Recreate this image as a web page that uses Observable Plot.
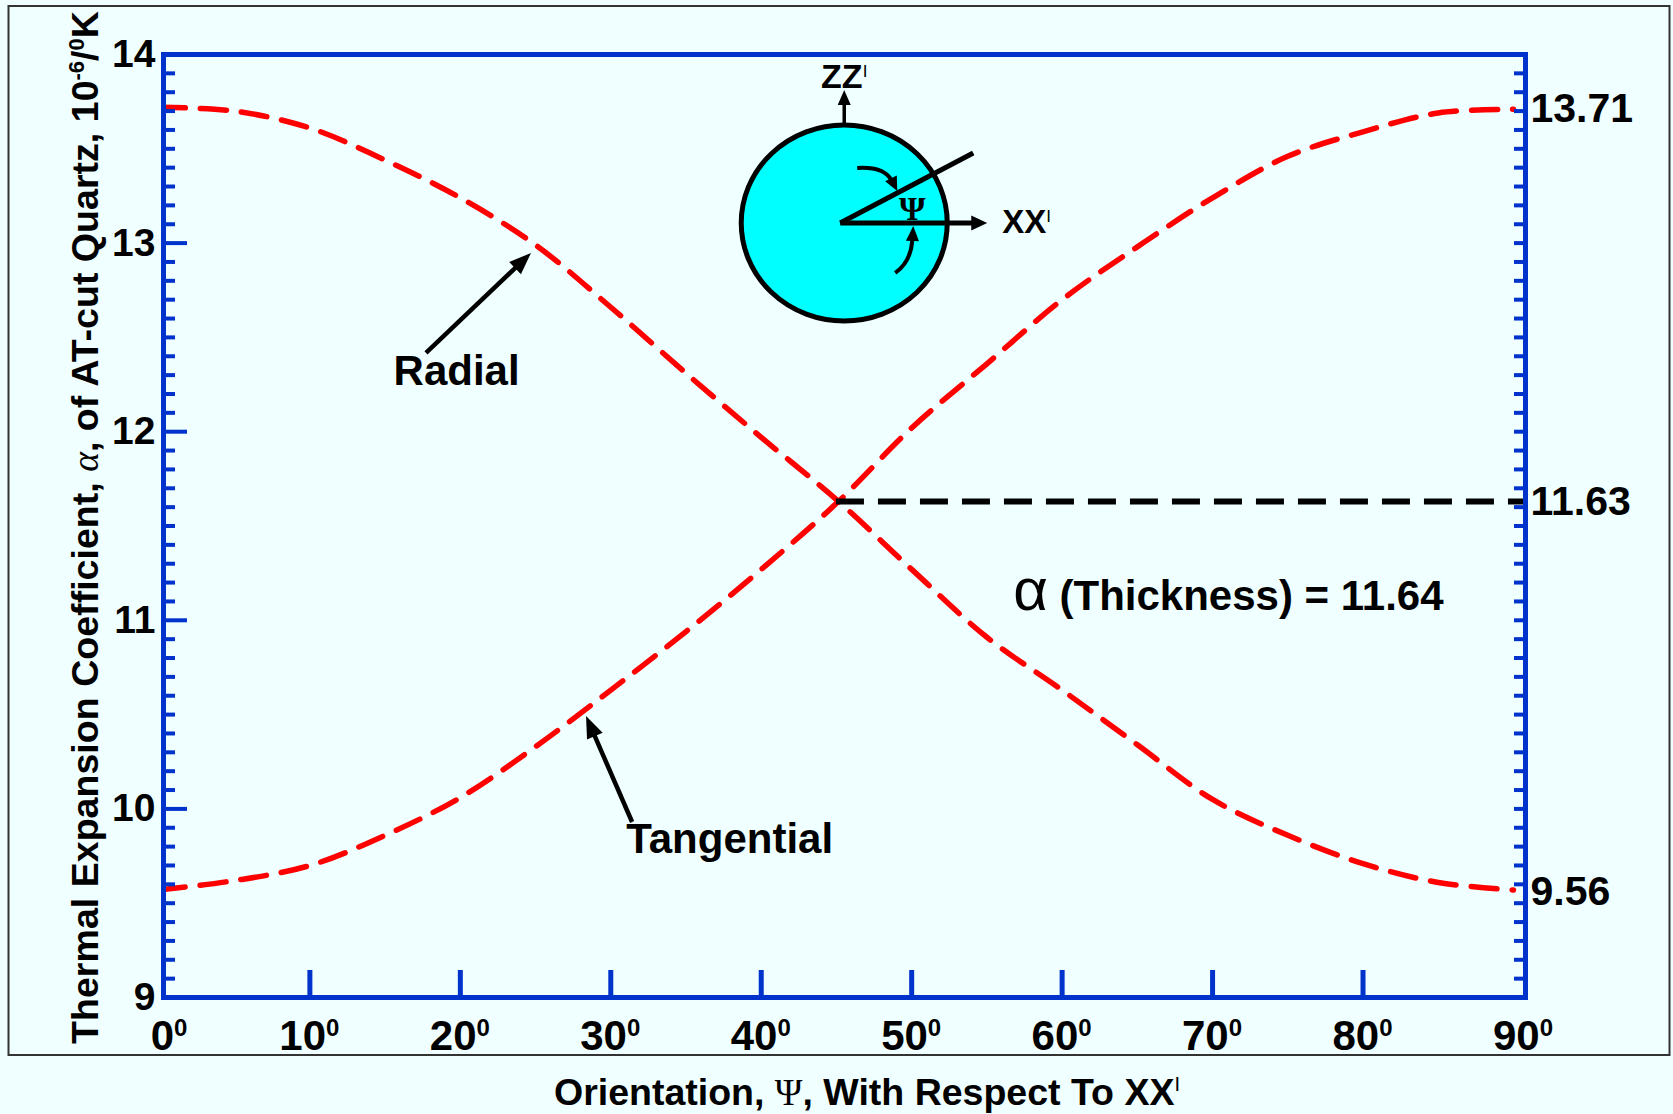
<!DOCTYPE html>
<html><head><meta charset="utf-8">
<script src="https://cdn.jsdelivr.net/npm/d3@7"></script>
<script src="https://cdn.jsdelivr.net/npm/@observablehq/plot@0.6"></script>
<style>html,body{margin:0;padding:0;background:#F0FFFF;} svg{display:block}</style>
</head><body><div id="chart"></div>
<script>
// ---- data ----
const angles     = [0, 5, 10, 15, 20, 25, 30, 35, 40, 45, 50, 55, 60, 65, 70, 75, 80, 85, 90];
const radial     = [13.72, 13.70, 13.61, 13.44, 13.24, 12.99, 12.66, 12.31, 11.97, 11.64, 11.27, 10.91, 10.63, 10.34, 10.05, 9.86, 9.71, 9.61, 9.57];
const tangential = [9.57, 9.62, 9.70, 9.86, 10.06, 10.33, 10.63, 10.94, 11.27, 11.62, 12.02, 12.36, 12.70, 12.98, 13.24, 13.46, 13.59, 13.69, 13.71];
const xDomain = [0.27, 90.8];
const yMajorTicks = [9, 10, 11, 12, 13, 14];
const yMinorTicks = d3.range(90, 141).map(i => i / 10);
const xTickLabels = [0, 10, 20, 30, 40, 50, 60, 70, 80, 90];
const xTickMarks = [10, 20, 30, 40, 50, 60, 70, 80];
const rightLabels = [13.71, 11.63, 9.56];
const thicknessLevel = 11.63;
const thicknessStart = 45.0;
const thicknessText = "(Thickness) = 11.64";
const xTitle = ["Orientation, ", "Ψ", ", With Respect To XX"];
const yTitle = ["Thermal Expansion Coefficient, ", "α", ", of AT-cut Quartz, 10", "-6", "/", "0", "K"];
// annotation anchors in data units [deg, value]
const radialLabel = {x: 19.75, y: 12.245, text: "Radial", from: [17.75, 12.415], to: [24.73, 12.945]};
const tangLabel   = {x: 37.9, y: 9.764, text: "Tangential", from: [31.45, 9.928], to: [28.39, 10.49]};
const thicknessLabelAt = [56.78, 11.052];
const insetCenter = [45.55, 13.104];

const blue = "#0033CC";
const SANS = "'Liberation Sans', Arial, Helvetica, sans-serif";
const NARROW = "'Liberation Sans Narrow', 'Arial Narrow', 'Liberation Sans', Arial, sans-serif";
const SERIF = "'Liberation Serif', 'Times New Roman', serif";

const rows = angles.flatMap((a, i) => [
  {a, v: radial[i], s: "Radial"},
  {a, v: tangential[i], s: "Tangential"}
]);
const minorOnly = yMinorTicks.filter(v => Math.abs(v - Math.round(v)) > 1e-6);

const W = 1673, H = 1114, ML = 163, MR = 148, MT = 54, MB = 117;
const chart = Plot.plot({
  width: W, height: H,
  marginLeft: ML, marginRight: MR, marginTop: MT, marginBottom: MB,
  x: {domain: xDomain},
  y: {domain: [9, 14]},
  style: {background: "#F0FFFF", fontFamily: SANS},
  marks: [
    Plot.line(rows, {x: "a", y: "v", z: "s", stroke: "#FF0000", strokeWidth: 5.5, strokeDasharray: "26,15", curve: "catmull-rom", clip: true}),
    Plot.ruleY([thicknessLevel], {x1: thicknessStart, x2: xDomain[1], stroke: "black", strokeWidth: 6, strokeDasharray: "28,14"}),
    Plot.axisY(minorOnly, {anchor: "left", tickSize: -12, tickFormat: () => "", stroke: blue, strokeWidth: 4, label: null}),
    Plot.axisY(yMajorTicks, {anchor: "left", tickSize: -24, tickFormat: () => "", stroke: blue, strokeWidth: 4, label: null}),
    Plot.axisY(yMinorTicks, {anchor: "right", tickSize: -12, tickFormat: () => "", stroke: blue, strokeWidth: 4, label: null}),
    Plot.axisX(xTickMarks, {anchor: "bottom", tickSize: -27, tickFormat: () => "", stroke: blue, strokeWidth: 5, label: null}),
    Plot.frame({stroke: blue, strokeWidth: 5}),
    Plot.text(yMajorTicks, {frameAnchor: "left", y: d => d, text: d => String(d), textAnchor: "end", dx: -8, fontSize: 39, fontWeight: "bold", fill: "black", fontFamily: SANS}),
    Plot.text(rightLabels, {frameAnchor: "right", y: d => d, text: d => d.toFixed(2), textAnchor: "start", dx: 5, fontSize: 41, fontWeight: "bold", fill: "black", fontFamily: SANS}),
    Plot.text([radialLabel, tangLabel], {x: "x", y: "y", text: "text", lineAnchor: "bottom", fontSize: 42, fontWeight: "bold", fill: "black", fontFamily: SANS})
  ]
});
document.getElementById("chart").append(chart);

// ---- decorations drawn with the plot's own scales ----
const sx = chart.scale("x").apply, sy = chart.scale("y").apply;
const svg = d3.select(chart);
const g = svg.append("g").attr("text-anchor", "start");

function head(px, py, dx, dy, len, wid) {
  const n = Math.hypot(dx, dy); dx /= n; dy /= n;
  const bx = px - dx * len, by = py - dy * len;
  const nx = -dy, ny = dx;
  g.append("path").attr("d", `M${px},${py}L${bx + nx * wid / 2},${by + ny * wid / 2}L${bx - nx * wid / 2},${by - ny * wid / 2}Z`).attr("fill", "black");
}
function arrow(x1, y1, x2, y2, len, wid, sw) {
  const dx = x2 - x1, dy = y2 - y1, n = Math.hypot(dx, dy);
  g.append("line").attr("x1", x1).attr("y1", y1).attr("x2", x2 - dx / n * len * 0.8).attr("y2", y2 - dy / n * len * 0.8)
    .attr("stroke", "black").attr("stroke-width", sw);
  head(x2, y2, dx, dy, len, wid);
}

// outer border
g.append("rect").attr("x", 8.5).attr("y", 6).attr("width", 1661).attr("height", 1049)
  .attr("fill", "none").attr("stroke", "#333").attr("stroke-width", 2);

// bottom tick labels with superscript degree (end labels sit on the frame corners)
const yBase = sy(9);
xTickLabels.forEach(t => {
  const px = t === 0 ? ML + 6 : t === 90 ? W - MR - 2 : sx(t);
  const tx = g.append("text").attr("x", px).attr("y", yBase + 53).attr("text-anchor", "middle")
    .attr("font-family", NARROW).attr("font-weight", "bold").attr("font-size", 42).attr("fill", "black");
  tx.append("tspan").text(String(t));
  tx.append("tspan").attr("font-size", 24).attr("dy", -14).text("0");
});

// x title
const xt = g.append("text").attr("x", 867).attr("y", yBase + 108).attr("text-anchor", "middle")
  .attr("font-family", SANS).attr("font-weight", "bold").attr("font-size", 37.5).attr("fill", "black");
xt.append("tspan").text(xTitle[0]);
xt.append("tspan").attr("font-family", SERIF).attr("font-weight", "normal").text(xTitle[1]);
xt.append("tspan").text(xTitle[2]);
xt.append("tspan").attr("font-size", 20).attr("dy", -14).attr("font-weight", "normal").text("I");

// y title
const yt = g.append("text").attr("transform", `translate(98,${(sy(9) + sy(14)) / 2 + 2}) rotate(-90)`).attr("text-anchor", "middle")
  .attr("font-family", SANS).attr("font-weight", "bold").attr("font-size", 37.6).attr("fill", "black");
yt.append("tspan").text(yTitle[0]);
yt.append("tspan").attr("font-family", SERIF).attr("font-weight", "normal").attr("font-style", "italic").text(yTitle[1]);
yt.append("tspan").text(yTitle[2]);
yt.append("tspan").attr("font-size", 22).attr("dy", -14).text(yTitle[3]);
yt.append("tspan").attr("dy", 14).text(yTitle[4]);
yt.append("tspan").attr("font-size", 22).attr("dy", -14).text(yTitle[5]);
yt.append("tspan").attr("dy", 14).text(yTitle[6]);

// Radial / Tangential arrows
arrow(sx(radialLabel.from[0]), sy(radialLabel.from[1]), sx(radialLabel.to[0]), sy(radialLabel.to[1]), 22, 17, 4.5);
arrow(sx(tangLabel.from[0]), sy(tangLabel.from[1]), sx(tangLabel.to[0]), sy(tangLabel.to[1]), 22, 17, 4.5);

// alpha (Thickness) label
const at = g.append("text").attr("x", sx(thicknessLabelAt[0])).attr("y", sy(thicknessLabelAt[1])).attr("text-anchor", "start")
  .attr("font-family", SANS).attr("font-size", 42).attr("font-weight", "bold").attr("fill", "black");
at.append("tspan").attr("font-size", 60).attr("font-weight", "normal").text("α");
at.append("tspan").text(" " + thicknessText);

// inset diagram
const cx = sx(insetCenter[0]), cy = sy(insetCenter[1]);
g.append("ellipse").attr("cx", cx).attr("cy", cy).attr("rx", 103).attr("ry", 98)
  .attr("fill", "#00FFFF").attr("stroke", "black").attr("stroke-width", 5);
g.append("line").attr("x1", cx - 4).attr("y1", cy).attr("x2", cx + 129).attr("y2", cy - 70).attr("stroke", "black").attr("stroke-width", 5);
arrow(cx - 4, cy, cx + 143, cy, 16, 15, 5);
arrow(cx, cy - 98, cx, cy - 133, 15, 13, 3.5);
g.append("path").attr("d", `M${cx + 13},${cy - 55} C${cx + 30},${cy - 56} ${cx + 42},${cy - 52} ${cx + 47},${cy - 43}`)
  .attr("fill", "none").attr("stroke", "black").attr("stroke-width", 4);
head(cx + 53, cy - 32, 0.45, 0.9, 14, 13);
g.append("path").attr("d", `M${cx + 51},${cy + 50} C${cx + 62},${cy + 42} ${cx + 67},${cy + 32} ${cx + 68},${cy + 18}`)
  .attr("fill", "none").attr("stroke", "black").attr("stroke-width", 4);
head(cx + 69, cy + 3, 0.05, -1, 15, 13);
g.append("text").attr("x", cx + 68).attr("y", cy - 3).attr("text-anchor", "middle")
  .attr("font-family", SERIF).attr("font-size", 34).attr("font-weight", "bold").attr("fill", "black").text("Ψ");
const zz = g.append("text").attr("x", cx).attr("y", cy - 135).attr("text-anchor", "middle")
  .attr("font-family", NARROW).attr("font-weight", "bold").attr("font-size", 34).attr("fill", "black");
zz.append("tspan").text("ZZ");
zz.append("tspan").attr("font-size", 17).attr("font-weight", "normal").attr("dy", -11).text("I");
const xx = g.append("text").attr("x", cx + 158).attr("y", cy + 10).attr("text-anchor", "start")
  .attr("font-family", NARROW).attr("font-weight", "bold").attr("font-size", 33).attr("fill", "black");
xx.append("tspan").text("XX");
xx.append("tspan").attr("font-size", 17).attr("font-weight", "normal").attr("dy", -11).text("I");
</script>
</body></html>
